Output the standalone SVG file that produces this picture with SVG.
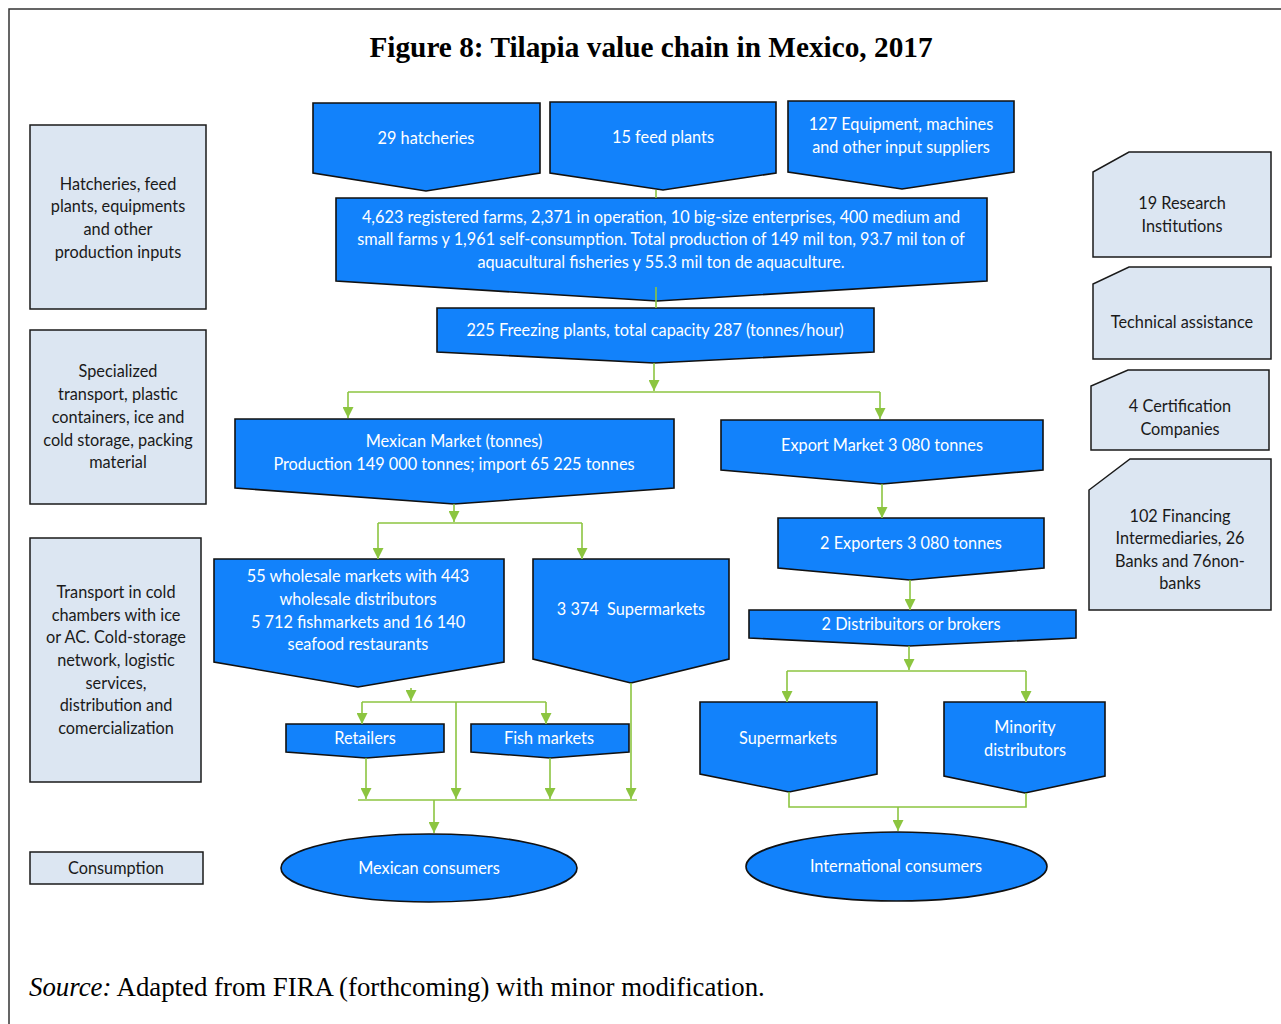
<svg xmlns="http://www.w3.org/2000/svg" width="1281" height="1024" viewBox="0 0 1281 1024">
<defs>
<style>
.frame{stroke:#333;stroke-width:1.5;fill:none}
.title{font-family:"Liberation Serif",serif;font-weight:bold;font-size:29.3px;fill:#000}
.src{font-family:"Liberation Serif",serif;font-size:26.8px;fill:#000}
.side{fill:#dce6f2;stroke:#1a1a1a;stroke-width:1.5}
.side-t{font-family:Lato,"Open Sans",sans-serif;font-size:16.3px;fill:#1a1a1a;text-anchor:middle}
.blue{fill:#1282fb;stroke:#111;stroke-width:1.6}
.blue-t{font-family:Lato,"Open Sans",sans-serif;font-size:16.3px;fill:#fff;text-anchor:middle}
.conn{stroke:#8cc540;stroke-width:1.6;fill:none}
</style>
<marker id="ah" viewBox="0 0 10 10" refX="10" refY="5" markerWidth="11" markerHeight="11" markerUnits="userSpaceOnUse" orient="auto">
<path d="M0,0 L10,5 L0,10 z" fill="#8cc540"/>
</marker>
</defs>
<rect width="1281" height="1024" fill="#fff"/>
<path class="frame" d="M9,1024 V9 H1281"/>
<text class="title" x="651" y="57" text-anchor="middle">Figure 8: Tilapia value chain in Mexico, 2017</text>
<text class="src" x="29" y="996"><tspan font-style="italic">Source:</tspan> Adapted from FIRA (forthcoming) with minor modification.</text>

<g id="side-inputs"><rect class="side" x="30" y="125" width="176" height="184"/>
<text class="side-t" x="118"><tspan x="118" y="190">Hatcheries, feed</tspan><tspan x="118" y="212">plants, equipments</tspan><tspan x="118" y="235">and other</tspan><tspan x="118" y="258">production inputs</tspan></text></g>
<g id="side-transport"><rect class="side" x="30" y="330" width="176" height="174"/>
<text class="side-t"><tspan x="118" y="377">Specialized</tspan><tspan x="118" y="400">transport, plastic</tspan><tspan x="118" y="423">containers, ice and</tspan><tspan x="118" y="446">cold storage, packing</tspan><tspan x="118" y="468">material</tspan></text></g>
<g id="side-cold"><rect class="side" x="30" y="538" width="171" height="244"/>
<text class="side-t"><tspan x="116" y="598">Transport in cold</tspan><tspan x="116" y="621">chambers with ice</tspan><tspan x="116" y="643">or AC. Cold-storage</tspan><tspan x="116" y="666">network, logistic</tspan><tspan x="116" y="689">services,</tspan><tspan x="116" y="711">distribution and</tspan><tspan x="116" y="734">comercialization</tspan></text></g>
<g id="side-consumption"><rect class="side" x="30" y="852" width="173" height="32"/>
<text class="side-t" x="116" y="874">Consumption</text></g>

<g id="research"><path class="side" d="M1129,152 H1271 V257 H1093 V172 Z"/>
<text class="side-t"><tspan x="1182" y="209">19 Research</tspan><tspan x="1182" y="232">Institutions</tspan></text></g>
<g id="techassist"><path class="side" d="M1129,267 H1271 V359 H1093 V284 Z"/>
<text class="side-t" x="1182" y="328">Technical assistance</text></g>
<g id="certification"><path class="side" d="M1128,370 H1269 V450 H1091 V386 Z"/>
<text class="side-t"><tspan x="1180" y="412">4 Certification</tspan><tspan x="1180" y="435">Companies</tspan></text></g>
<g id="financing"><path class="side" d="M1130,459 H1271 V610 H1089 V490 Z"/>
<text class="side-t"><tspan x="1180" y="522">102 Financing</tspan><tspan x="1180" y="544">Intermediaries, 26</tspan><tspan x="1180" y="567">Banks and 76non-</tspan><tspan x="1180" y="589">banks</tspan></text></g>

<g id="hatcheries"><path class="blue" d="M313,103 H540 V173 L426,191 L313,173 Z"/>
<text class="blue-t" x="426" y="144">29 hatcheries</text></g>
<g id="feedplants"><path class="blue" d="M550,102 H776 V173 L663,190 L550,173 Z"/>
<text class="blue-t" x="663" y="143">15 feed plants</text></g>
<g id="equipment"><path class="blue" d="M788,101 H1014 V172 L902,189 L788,172 Z"/>
<text class="blue-t"><tspan x="901" y="130">127 Equipment, machines</tspan><tspan x="901" y="153">and other input suppliers</tspan></text></g>
<g id="farms"><path class="blue" d="M336,198 H987 V281 L657,301 L336,281 Z"/>
<text class="blue-t"><tspan x="661" y="223">4,623 registered farms, 2,371 in operation, 10 big-size enterprises, 400 medium and</tspan><tspan x="661" y="245">small farms y 1,961 self-consumption. Total production of 149 mil ton, 93.7 mil ton of</tspan><tspan x="661" y="268">aquacultural fisheries y 55.3 mil ton de aquaculture.</tspan></text></g>
<g id="freezing"><path class="blue" d="M437,308 H874 V352 L654,363 L437,352 Z"/>
<text class="blue-t" x="655" y="336">225 Freezing plants, total capacity 287 (tonnes/hour)</text></g>
<g id="mexmarket"><path class="blue" d="M235,419 H674 V488 L454,504 L235,488 Z"/>
<text class="blue-t"><tspan x="454" y="447">Mexican Market (tonnes)</tspan><tspan x="454" y="470">Production 149 000 tonnes; import 65 225 tonnes</tspan></text></g>
<g id="exportmarket"><path class="blue" d="M721,420 H1043 V470 L882,484 L721,470 Z"/>
<text class="blue-t" x="882" y="451">Export Market 3 080 tonnes</text></g>
<g id="wholesale"><path class="blue" d="M214,559 H504 V662 L358,687 L214,662 Z"/>
<text class="blue-t"><tspan x="358" y="582">55 wholesale markets with 443</tspan><tspan x="358" y="605">wholesale distributors</tspan><tspan x="358" y="628">5 712 fishmarkets and 16 140</tspan><tspan x="358" y="650">seafood restaurants</tspan></text></g>
<g id="supermarkets-mx"><path class="blue" d="M533,559 H729 V659 L631,683 L533,659 Z"/>
<text class="blue-t" x="631" y="615" xml:space="preserve">3 374  Supermarkets</text></g>
<g id="retailers"><path class="blue" d="M286,724 H444 V752 L366,758 L286,752 Z"/>
<text class="blue-t" x="365" y="744">Retailers</text></g>
<g id="fishmarkets"><path class="blue" d="M471,724 H629 V752 L550,758 L471,752 Z"/>
<text class="blue-t" x="549" y="744">Fish markets</text></g>
<g id="exporters"><path class="blue" d="M778,518 H1044 V568 L910,580 L778,568 Z"/>
<text class="blue-t" x="911" y="549">2 Exporters 3 080 tonnes</text></g>
<g id="distributors"><path class="blue" d="M749,610 H1076 V638 L909,646 L749,638 Z"/>
<text class="blue-t" x="911" y="630">2 Distribuitors or brokers</text></g>
<g id="supermarkets-int"><path class="blue" d="M700,702 H877 V774 L789,792 L700,774 Z"/>
<text class="blue-t" x="788" y="744">Supermarkets</text></g>
<g id="minority"><path class="blue" d="M944,702 H1105 V776 L1025,793 L944,776 Z"/>
<text class="blue-t"><tspan x="1025" y="733">Minority</tspan><tspan x="1025" y="756">distributors</tspan></text></g>
<g id="mex-consumers"><ellipse class="blue" cx="429" cy="868" rx="148" ry="34"/>
<text class="blue-t" x="429" y="874">Mexican consumers</text></g>
<g id="int-consumers"><ellipse class="blue" cx="896.5" cy="866.5" rx="150.5" ry="34.5"/>
<text class="blue-t" x="896" y="872">International consumers</text></g>

<g id="connectors">
<path class="conn" d="M656,190 V198"/>
<path class="conn" d="M656,287 V308"/>
<path class="conn" d="M654,363 V391" marker-end="url(#ah)"/>
<path class="conn" d="M348,392 H880"/>
<path class="conn" d="M348,392 V418" marker-end="url(#ah)"/>
<path class="conn" d="M880,392 V419" marker-end="url(#ah)"/>
<path class="conn" d="M454,504 V522" marker-end="url(#ah)"/>
<path class="conn" d="M378,523 H582"/>
<path class="conn" d="M378,523 V559" marker-end="url(#ah)"/>
<path class="conn" d="M582,523 V559" marker-end="url(#ah)"/>
<path class="conn" d="M411,688 V701" marker-end="url(#ah)"/>
<path class="conn" d="M362,702 H546"/>
<path class="conn" d="M362,702 V724" marker-end="url(#ah)"/>
<path class="conn" d="M546,702 V724" marker-end="url(#ah)"/>
<path class="conn" d="M456,702 V799" marker-end="url(#ah)"/>
<path class="conn" d="M366,758 V799" marker-end="url(#ah)"/>
<path class="conn" d="M550,758 V799" marker-end="url(#ah)"/>
<path class="conn" d="M631,683 V799" marker-end="url(#ah)"/>
<path class="conn" d="M358,800 H637"/>
<path class="conn" d="M434,800 V833" marker-end="url(#ah)"/>
<path class="conn" d="M882,484 V518" marker-end="url(#ah)"/>
<path class="conn" d="M910,580 V610" marker-end="url(#ah)"/>
<path class="conn" d="M909,646 V670" marker-end="url(#ah)"/>
<path class="conn" d="M787,671 H1026"/>
<path class="conn" d="M787,671 V702" marker-end="url(#ah)"/>
<path class="conn" d="M1026,671 V702" marker-end="url(#ah)"/>
<path class="conn" d="M789,792 V807 H1026 V793"/>
<path class="conn" d="M898,807 V831" marker-end="url(#ah)"/>
</g>
</svg>
